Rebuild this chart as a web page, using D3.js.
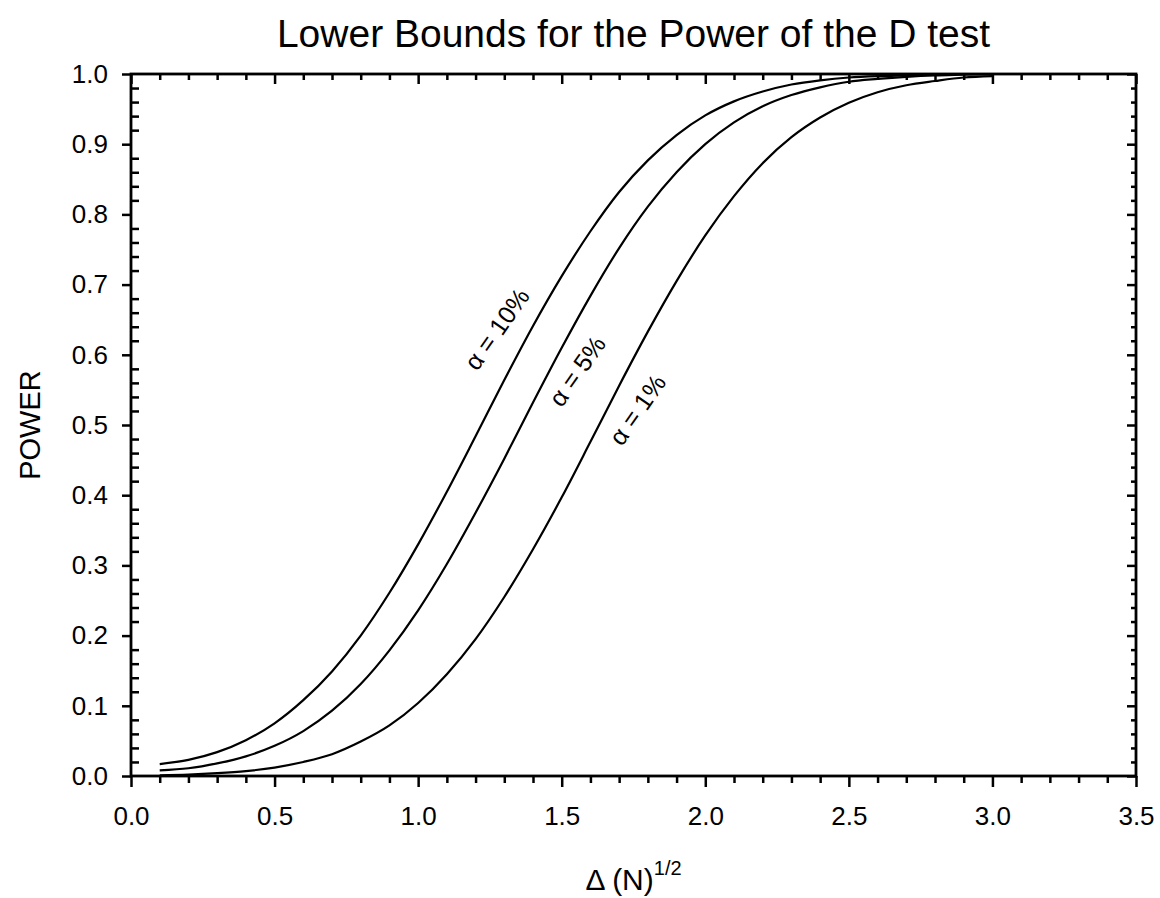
<!DOCTYPE html>
<html>
<head>
<meta charset="utf-8">
<script src="https://cdn.jsdelivr.net/npm/d3@7"></script>
<style>
  body { margin: 0; background: #fff; }
  svg text { font-family: "Liberation Sans", Arial, sans-serif; fill: #000; }
  .axis path { display: none; }
  .axis line { stroke: #000; stroke-width: 2.5; }
</style>
</head>
<body>
<div id="chart"></div>
<script>
// Delta * sqrt(N) values along the x axis
const deltaRootN = [0.1, 0.2, 0.3, 0.4, 0.5, 0.6, 0.7, 0.8, 0.9, 1.0,
  1.1, 1.2, 1.3, 1.4, 1.5, 1.6, 1.7, 1.8, 1.9, 2.0,
  2.1, 2.2, 2.3, 2.4, 2.5, 2.6, 2.7, 2.8, 2.9, 3.0];

// power
const power10 = [0.017, 0.023, 0.034, 0.051, 0.075, 0.108, 0.149, 0.200, 0.261, 0.330,
  0.405, 0.484, 0.564, 0.641, 0.712, 0.776, 0.832, 0.877, 0.913, 0.941,
  0.961, 0.975, 0.985, 0.991, 0.995, 0.997, 0.998, 0.999, 1.000, 1.000];
const power5 = [0.008, 0.011, 0.018, 0.028, 0.043, 0.064, 0.093, 0.131, 0.179, 0.236,
  0.302, 0.375, 0.452, 0.532, 0.610, 0.684, 0.752, 0.811, 0.860, 0.900,
  0.931, 0.954, 0.970, 0.981, 0.989, 0.993, 0.996, 0.998, 0.999, 1.000];
const power1 = [0.001, 0.002, 0.004, 0.007, 0.012, 0.020, 0.031, 0.049, 0.072, 0.104,
  0.145, 0.195, 0.255, 0.323, 0.397, 0.476, 0.556, 0.633, 0.705, 0.770,
  0.826, 0.873, 0.910, 0.938, 0.959, 0.974, 0.984, 0.990, 0.995, 0.997];

const seriesNames = ["\u03b1 = 10%", "\u03b1 = 5%", "\u03b1 = 1%"];
const xTicks = [0, 0.5, 1.0, 1.5, 2.0, 2.5, 3.0, 3.5];
const yTicks = [0, 0.1, 0.2, 0.3, 0.4, 0.5, 0.6, 0.7, 0.8, 0.9, 1.0];

const width = 1160, height = 898;
const margin = { left: 131, right: 24, top: 74, bottom: 122 };

const svg = d3.select("#chart").append("svg")
  .attr("width", width)
  .attr("height", height);

const x = d3.scaleLinear().domain([0, 3.5]).range([margin.left, width - margin.right]);
const y = d3.scaleLinear().domain([0, 1]).range([height - margin.bottom, margin.top]);

const x0 = x.range()[0], x1 = x.range()[1];
const y0 = y.range()[0], y1 = y.range()[1];

const xMinor = d3.range(0, 36).map((i) => i / 10).filter((v) => Math.round(v * 10) % 5 !== 0);
const yMinor = d3.range(0, 51).map((i) => i / 50).filter((v) => Math.round(v * 50) % 5 !== 0);
const fmt = d3.format(".1f");

// left axis: labelled major ticks outward, minor ticks inward
svg.append("g").attr("class", "axis")
  .attr("transform", `translate(${x0},0)`)
  .call(d3.axisLeft(y).tickValues(yTicks).tickFormat(fmt).tickSize(9).tickPadding(14))
  .selectAll("text").style("font-size", "26px");
svg.append("g").attr("class", "axis")
  .attr("transform", `translate(${x0},0)`)
  .call(d3.axisRight(y).tickValues(yMinor).tickFormat("").tickSize(8));

// right axis: all ticks inward
svg.append("g").attr("class", "axis")
  .attr("transform", `translate(${x1},0)`)
  .call(d3.axisLeft(y).tickValues(yTicks).tickFormat("").tickSize(9));
svg.append("g").attr("class", "axis")
  .attr("transform", `translate(${x1},0)`)
  .call(d3.axisLeft(y).tickValues(yMinor).tickFormat("").tickSize(5));

// bottom axis: ticks outward
svg.append("g").attr("class", "axis")
  .attr("transform", `translate(0,${y0})`)
  .call(d3.axisBottom(x).tickValues(xTicks).tickFormat(fmt).tickSize(11).tickPadding(20))
  .selectAll("text").style("font-size", "26px");
svg.append("g").attr("class", "axis")
  .attr("transform", `translate(0,${y0})`)
  .call(d3.axisBottom(x).tickValues(xMinor).tickFormat("").tickSize(7));

// top axis: ticks inward
svg.append("g").attr("class", "axis")
  .attr("transform", `translate(0,${y1})`)
  .call(d3.axisBottom(x).tickValues(xTicks).tickFormat("").tickSize(10));
svg.append("g").attr("class", "axis")
  .attr("transform", `translate(0,${y1})`)
  .call(d3.axisBottom(x).tickValues(xMinor).tickFormat("").tickSize(6));

// frame
svg.append("rect")
  .attr("x", x0).attr("y", y1)
  .attr("width", x1 - x0).attr("height", y0 - y1)
  .attr("fill", "none")
  .attr("stroke", "#000")
  .attr("stroke-width", 2.8);

// curves
const line = d3.line()
  .x((d) => x(d[0]))
  .y((d) => y(d[1]))
  .curve(d3.curveMonotoneX);

[power10, power5, power1].forEach(function (vals) {
  svg.append("path")
    .datum(deltaRootN.map((v, i) => [v, vals[i]]))
    .attr("fill", "none")
    .attr("stroke", "#000")
    .attr("stroke-width", 2.2)
    .attr("d", line);
});

// curve labels, rotated along the curves
const labelPos = [[1.28, 0.635], [1.56, 0.575], [1.77, 0.52]];
svg.selectAll(".curve-label")
  .data(seriesNames)
  .enter()
  .append("text")
  .attr("class", "curve-label")
  .attr("text-anchor", "middle")
  .attr("dominant-baseline", "middle")
  .style("font-size", "25px")
  .attr("transform", (d, i) => `translate(${x(labelPos[i][0])},${y(labelPos[i][1])}) rotate(-55)`)
  .text((d) => d);

// title
svg.append("text")
  .attr("x", (x0 + x1) / 2)
  .attr("y", 47)
  .attr("text-anchor", "middle")
  .style("font-size", "39px")
  .text("Lower Bounds for the Power of the D test");

// y axis title
svg.append("text")
  .attr("transform", `translate(40,${(y0 + y1) / 2}) rotate(-90)`)
  .attr("text-anchor", "middle")
  .style("font-size", "29px")
  .text("POWER");

// x axis title with superscript
const xt = svg.append("text")
  .attr("x", (x0 + x1) / 2)
  .attr("y", 890)
  .attr("text-anchor", "middle")
  .style("font-size", "30px");
xt.append("tspan").text("\u0394 (N)");
xt.append("tspan").attr("dy", -15).style("font-size", "20px").text("1/2");
</script>
</body>
</html>
